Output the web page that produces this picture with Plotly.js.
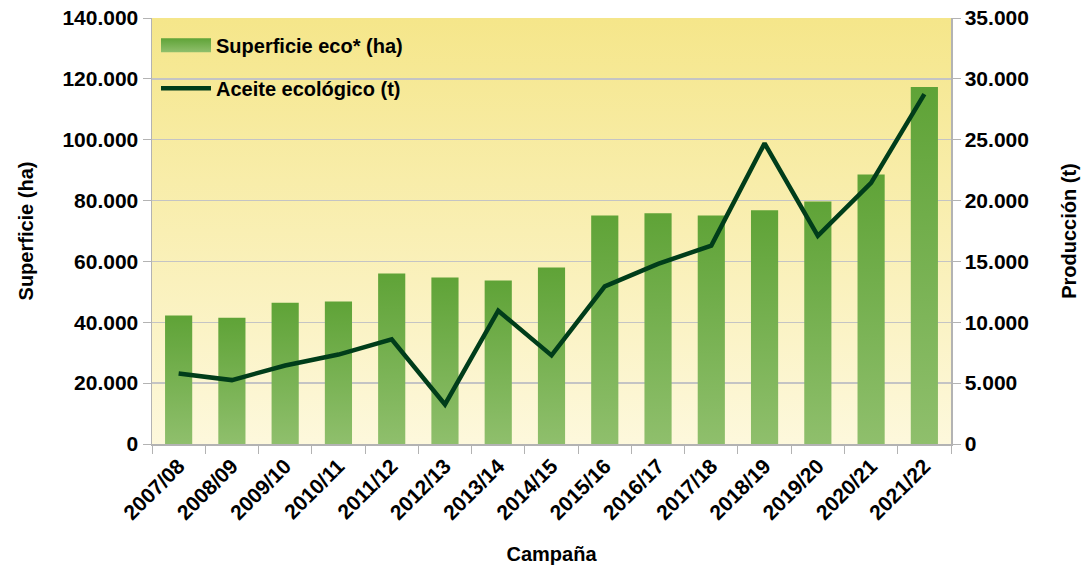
<!DOCTYPE html>
<html><head><meta charset="utf-8">
<script src="https://cdn.plot.ly/plotly-3.0.1.min.js"></script>
<style>body{margin:0;background:#fff}#chart{width:1085px;height:568px}</style>
</head><body><div id="chart"></div>
<script>
const campanas = ['2007/08','2008/09','2009/10','2010/11','2011/12','2012/13','2013/14','2014/15','2015/16','2016/17','2017/18','2018/19','2019/20','2020/21','2021/22'];
const superficieHa = [42200,41500,46400,46800,56000,54700,53700,58000,75100,75800,75100,76800,79700,88600,117300];
const aceiteT = [5800,5250,6450,7350,8600,3250,10950,7280,12950,14800,16300,24700,17100,21450,28750];
const leftTicks = [0,20000,40000,60000,80000,100000,120000,140000];
const rightTicks = [0,5000,10000,15000,20000,25000,30000,35000];

const FAM = '"Liberation Sans", Arial, sans-serif';
const boldT = s => '<b>'+s+'</b>';
const fmt = v => v===0 ? '0' : v.toLocaleString('de-DE');

const traces = [
  {type:'bar', x:campanas, y:superficieHa, name:boldT('Superficie eco* (ha)'),
   marker:{color:'#74b04c'}, legendgroup:'a', hoverinfo:'skip'},
  {type:'scatter', mode:'lines', x:campanas, y:aceiteT, yaxis:'y2', name:boldT('Aceite ecológico (t)'),
   line:{color:'#003d1a', width:4.5}, legendgroup:'b', hoverinfo:'skip'}
];

const axisCommon = {ticks:'outside', ticklen:8, tickcolor:'#b3b3b3', showline:true, linecolor:'#b3b3b3', linewidth:1.5, zeroline:false};

const layout = {
  width:1085, height:568,
  margin:{l:152, r:134, t:18, b:124},
  paper_bgcolor:'#ffffff',
  plot_bgcolor:'#f8eeb0',
  font:{family:FAM, size:20, color:'#000'},
  bargap:0.49,
  showlegend:true,
  legend:{x:0.005, y:0.982, xanchor:'left', yanchor:'top', bgcolor:'rgba(0,0,0,0)',
          font:{family:FAM, size:20, color:'#000'}, traceorder:'grouped', tracegroupgap:14, itemwidth:50},
  xaxis:Object.assign({}, axisCommon, {type:'category', tickangle:-45, tickson:'boundaries', showgrid:false,
         tickfont:{family:FAM, size:21, color:'#000'},
         ticktext:campanas.map(boldT), tickvals:campanas,
         title:{text:boldT('Campaña'), font:{family:FAM, size:20}, standoff:24}}),
  yaxis:Object.assign({}, axisCommon, {range:[0,140000], tickvals:leftTicks, ticktext:leftTicks.map(v=>boldT(fmt(v))),
         gridcolor:'#c4c4c4', gridwidth:1.5,
         tickfont:{family:FAM, size:21, color:'#000'},
         title:{text:boldT('Superficie (ha)'), font:{family:FAM, size:20}, standoff:23}}),
  yaxis2:Object.assign({}, axisCommon, {overlaying:'y', side:'right', range:[0,35000], tickvals:rightTicks,
          ticktext:rightTicks.map(v=>boldT(fmt(v))), showgrid:false,
          tickfont:{family:FAM, size:21, color:'#000'},
          title:{text:boldT('Producción (t)'), font:{family:FAM, size:20}, standoff:34}})
};

Plotly.newPlot('chart', traces, layout, {displayModeBar:false, staticPlot:true}).then(gd => {
  const NS = 'http://www.w3.org/2000/svg';
  const svg = gd.querySelector('svg.main-svg');
  let defs = svg.querySelector('defs');
  if (!defs) { defs = document.createElementNS(NS,'defs'); svg.insertBefore(defs, svg.firstChild); }
  function grad(id, top, bottom) {
    const g = document.createElementNS(NS,'linearGradient');
    g.setAttribute('id', id); g.setAttribute('x1','0'); g.setAttribute('y1','0'); g.setAttribute('x2','0'); g.setAttribute('y2','1');
    [[0,top],[1,bottom]].forEach(([o,c])=>{const s=document.createElementNS(NS,'stop'); s.setAttribute('offset',o); s.setAttribute('stop-color',c); g.appendChild(s);});
    defs.appendChild(g);
  }
  grad('bgGrad','#f5e68a','#fdf8dc');
  grad('barGrad','#5fa337','#8fbf6c');
  const bg = gd.querySelector('.bglayer rect.bg');
  if (bg) bg.style.fill = 'url(#bgGrad)';
  gd.querySelectorAll('.barlayer .point path').forEach(p => { p.style.fill = 'url(#barGrad)'; });
  // widen the bar legend swatch to match the line swatch
  const linePath = gd.querySelector('.legend .legendlines path');
  const barPath = gd.querySelector('.legend path.legendbar') || gd.querySelector('.legend .legendpoints path');
  if (linePath && barPath) {
    const lr = linePath.getBoundingClientRect();
    barPath.removeAttribute('transform');
    const m = barPath.parentNode.getScreenCTM().inverse();
    const pt = svg.createSVGPoint();
    pt.x = lr.left; pt.y = 0; const a = pt.matrixTransform(m);
    pt.x = lr.right; const b = pt.matrixTransform(m);
    barPath.setAttribute('d', `M${a.x},-7H${b.x}V7H${a.x}Z`);
    barPath.style.fill = 'url(#barGrad)';
    barPath.style.stroke = 'none';
  }
});
</script></body></html>
